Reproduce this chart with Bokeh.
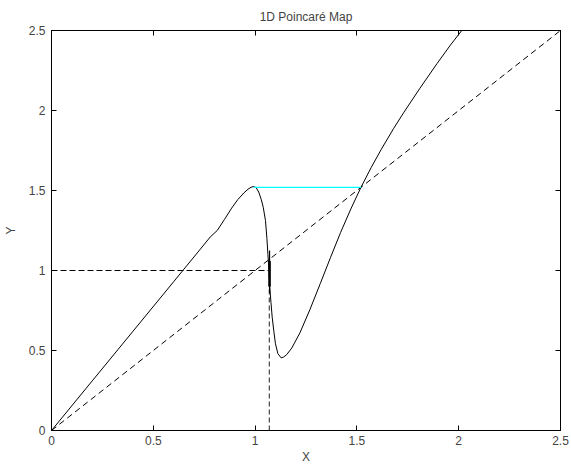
from bokeh.plotting import figure
from bokeh.models import Range1d, LinearAxis, FixedTicker
from bokeh.embed import file_html
from bokeh.resources import INLINE

# Data
map_x = [0, 0.2, 0.4, 0.6, 0.732, 0.78, 0.814, 0.85, 0.885, 0.915, 0.945, 0.965,
         0.98, 0.992, 1.005, 1.018, 1.03, 1.040, 1.051, 1.058, 1.063, 1.068, 1.072,
         1.078, 1.084, 1.092, 1.100, 1.112, 1.128, 1.14, 1.155, 1.18, 1.22, 1.27,
         1.32, 1.37, 1.42, 1.47, 1.52, 1.57, 1.62, 1.68, 1.731, 1.81, 1.894, 1.96, 2.015]
map_y = [0, 0.31, 0.62, 0.93, 1.135, 1.21, 1.25, 1.32, 1.39, 1.443, 1.485, 1.508,
         1.52, 1.525, 1.518, 1.49, 1.445, 1.395, 1.3125, 1.2, 1.10, 1.0, 0.896,
         0.80, 0.708, 0.62, 0.542, 0.48, 0.454, 0.459, 0.474, 0.515, 0.610, 0.758,
         0.918, 1.080, 1.238, 1.384, 1.520, 1.643, 1.758, 1.887, 1.989, 2.14, 2.294, 2.41, 2.5]

diag_x = [0, 2.5]
diag_y = [0, 2.5]

x_start = 1.07
y_start = 1.0
iter_x = [1.071, 1.071]
iter_y = [0.86, 1.125]
iter_thick_y = [0.90, 1.06]

cyan_x = [0.992, 1.52]
cyan_y = [1.52, 1.52]

ticks = [0, 0.5, 1, 1.5, 2, 2.5]
tick_labels = ["0", "0.5", "1", "1.5", "2", "2.5"]

FONT = "Liberation Sans"

p = figure(frame_width=509, frame_height=400,
           x_range=Range1d(0, 2.5), y_range=Range1d(0, 2.5),
           output_backend="svg", toolbar_location=None,
           title="1D Poincaré Map",
           min_border_left=43, min_border_right=10, min_border_top=22, min_border_bottom=10)

p.title.align = "center"
p.title.text_font = FONT
p.title.text_font_style = "normal"
p.title.text_font_size = "12px"
p.title.standoff = 14

p.xgrid.visible = False
p.ygrid.visible = False
p.outline_line_color = "black"
p.outline_line_width = 1

overrides = {t: l for t, l in zip(ticks, tick_labels)}

for ax in [p.xaxis[0], p.yaxis[0]]:
    ax.ticker = FixedTicker(ticks=ticks)
    ax.major_label_overrides = overrides
    ax.major_tick_in = 5
    ax.major_tick_out = 0
    ax.minor_tick_line_color = None
    ax.major_label_text_font = FONT
    ax.major_label_text_font_size = "12px"
    ax.axis_label_text_font = FONT
    ax.axis_label_text_font_size = "12px"
    ax.axis_label_text_font_style = "normal"
    ax.axis_line_color = "black"
    ax.major_tick_line_color = "black"

p.xaxis[0].axis_label = "X"
p.yaxis[0].axis_label = "Y"
p.xaxis[0].major_label_standoff = 5
p.xaxis[0].axis_label_standoff = 2
p.yaxis[0].major_label_standoff = 6
p.yaxis[0].axis_label_standoff = 8

for loc in ["above", "right"]:
    ax = LinearAxis(ticker=FixedTicker(ticks=ticks))
    ax.major_tick_in = 5
    ax.major_tick_out = 0
    ax.minor_tick_line_color = None
    ax.major_label_text_font_size = "1px"
    ax.major_label_text_color = None
    ax.major_label_standoff = 0
    ax.axis_line_color = "black"
    p.add_layout(ax, loc)

# diagonal y = x
p.line(diag_x, diag_y, line_color="black", line_width=1, line_dash="6 4")
# starting point guides
p.line([0, x_start], [y_start, y_start], line_color="black", line_width=1, line_dash="6 3")
p.line([x_start, x_start], [0, y_start], line_color="#555555", line_width=1.3, line_dash="5 3")
# map curve
p.line(map_x, map_y, line_color="black", line_width=1)
# iterates near the start
p.line(iter_x, iter_y, line_color="black", line_width=1.2)
p.line(iter_x, iter_thick_y, line_color="black", line_width=2.5)
# cyan connector
p.line(cyan_x, cyan_y, line_color="cyan", line_width=1.3)

open("out.html", "w").write(file_html(p, INLINE))
